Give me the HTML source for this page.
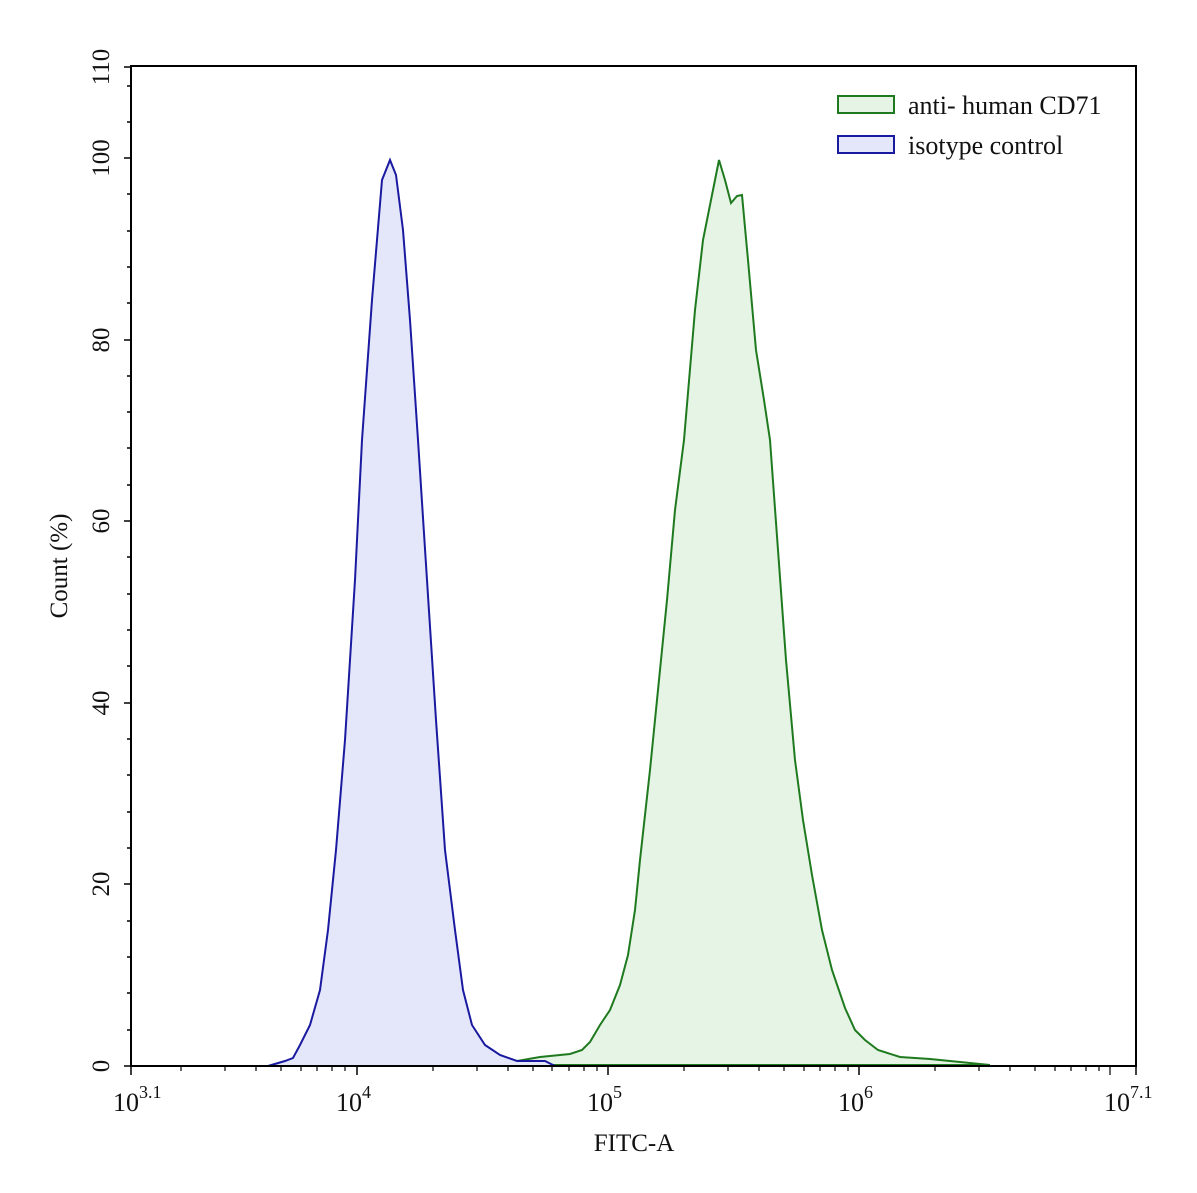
<!DOCTYPE html>
<html><head><meta charset="utf-8"><style>html,body{margin:0;padding:0;background:#fff}svg{display:block}</style></head>
<body>
<svg width="1197" height="1193" viewBox="0 0 1197 1193" xmlns="http://www.w3.org/2000/svg" font-family="Liberation Serif, serif" fill="#111">
<rect width="1197" height="1193" fill="#fff"/>
<path d="M340,1065 L430,1064 L500,1063 L517,1061 L540,1057 L570,1054 L582,1050 L590,1042 L600,1025 L610,1010 L620,985 L628,955 L635,910 L640,860 L650,770 L660,670 L667,600 L675,510 L684,440 L695,310 L703,240 L712,195 L719,160 L725,180 L731,203 L737,196 L742,195 L748,260 L756,350 L764,400 L770,440 L778,550 L786,660 L795,760 L803,820 L812,875 L822,930 L832,970 L845,1008 L855,1030 L865,1040 L878,1050 L900,1057 L930,1059 L960,1062 L990,1065 Z" fill="#e6f4e6" stroke="#1f7a1f" stroke-width="2"/>
<path d="M268,1066 L285,1061 L293,1058 L300,1045 L310,1025 L320,990 L328,930 L336,850 L345,740 L355,580 L362,440 L372,300 L382,180 L390,160 L396,175 L403,230 L410,320 L418,440 L427,580 L436,720 L445,850 L455,930 L463,990 L472,1025 L485,1045 L500,1055 L517,1061 L530,1061 L545,1061 L555,1066 Z" fill="#e4e6fa" stroke="#1a1aa0" stroke-width="2"/>
<rect x="131" y="66" width="1005" height="1000" fill="none" stroke="#000" stroke-width="2"/>
<g stroke="#000" stroke-width="1.5">
<line x1="124" y1="1066" x2="131" y2="1066"/><line x1="124" y1="884" x2="131" y2="884"/><line x1="124" y1="703" x2="131" y2="703"/><line x1="124" y1="521" x2="131" y2="521"/><line x1="124" y1="340" x2="131" y2="340"/><line x1="124" y1="158" x2="131" y2="158"/><line x1="124" y1="67" x2="131" y2="67"/>
<line x1="127" y1="1030" x2="131" y2="1030"/><line x1="127" y1="993" x2="131" y2="993"/><line x1="127" y1="957" x2="131" y2="957"/><line x1="127" y1="921" x2="131" y2="921"/>
<line x1="127" y1="848" x2="131" y2="848"/><line x1="127" y1="812" x2="131" y2="812"/><line x1="127" y1="775" x2="131" y2="775"/><line x1="127" y1="739" x2="131" y2="739"/>
<line x1="127" y1="666" x2="131" y2="666"/><line x1="127" y1="630" x2="131" y2="630"/><line x1="127" y1="594" x2="131" y2="594"/><line x1="127" y1="557" x2="131" y2="557"/>
<line x1="127" y1="485" x2="131" y2="485"/><line x1="127" y1="448" x2="131" y2="448"/><line x1="127" y1="412" x2="131" y2="412"/><line x1="127" y1="376" x2="131" y2="376"/>
<line x1="127" y1="303" x2="131" y2="303"/><line x1="127" y1="267" x2="131" y2="267"/><line x1="127" y1="231" x2="131" y2="231"/><line x1="127" y1="194" x2="131" y2="194"/>
<line x1="127" y1="122" x2="131" y2="122"/><line x1="127" y1="86" x2="131" y2="86"/>
<line x1="131" y1="1066" x2="131" y2="1075"/><line x1="357" y1="1066" x2="357" y2="1075"/><line x1="608" y1="1066" x2="608" y2="1075"/><line x1="859" y1="1066" x2="859" y2="1075"/><line x1="1136" y1="1066" x2="1136" y2="1075"/>
</g>
<g stroke="#000" stroke-width="1.2">
<line x1="181" y1="1066" x2="181" y2="1071"/><line x1="225" y1="1066" x2="225" y2="1071"/><line x1="256" y1="1066" x2="256" y2="1071"/><line x1="281" y1="1066" x2="281" y2="1071"/><line x1="301" y1="1066" x2="301" y2="1071"/><line x1="317" y1="1066" x2="317" y2="1071"/><line x1="332" y1="1066" x2="332" y2="1071"/><line x1="345" y1="1066" x2="345" y2="1071"/>
<line x1="433" y1="1066" x2="433" y2="1071"/><line x1="477" y1="1066" x2="477" y2="1071"/><line x1="508" y1="1066" x2="508" y2="1071"/><line x1="533" y1="1066" x2="533" y2="1071"/><line x1="552" y1="1066" x2="552" y2="1071"/><line x1="569" y1="1066" x2="569" y2="1071"/><line x1="584" y1="1066" x2="584" y2="1071"/><line x1="597" y1="1066" x2="597" y2="1071"/>
<line x1="684" y1="1066" x2="684" y2="1071"/><line x1="728" y1="1066" x2="728" y2="1071"/><line x1="759" y1="1066" x2="759" y2="1071"/><line x1="784" y1="1066" x2="784" y2="1071"/><line x1="804" y1="1066" x2="804" y2="1071"/><line x1="820" y1="1066" x2="820" y2="1071"/><line x1="835" y1="1066" x2="835" y2="1071"/><line x1="848" y1="1066" x2="848" y2="1071"/>
<line x1="935" y1="1066" x2="935" y2="1071"/><line x1="979" y1="1066" x2="979" y2="1071"/><line x1="1010" y1="1066" x2="1010" y2="1071"/><line x1="1035" y1="1066" x2="1035" y2="1071"/><line x1="1055" y1="1066" x2="1055" y2="1071"/><line x1="1071" y1="1066" x2="1071" y2="1071"/><line x1="1086" y1="1066" x2="1086" y2="1071"/><line x1="1099" y1="1066" x2="1099" y2="1071"/><line x1="1110" y1="1066" x2="1110" y2="1075"/>
</g>
<g font-size="25" text-anchor="middle">
<text transform="translate(109,1066) rotate(-90)">0</text>
<text transform="translate(109,884) rotate(-90)">20</text>
<text transform="translate(109,703) rotate(-90)">40</text>
<text transform="translate(109,521) rotate(-90)">60</text>
<text transform="translate(109,340) rotate(-90)">80</text>
<text transform="translate(109,158) rotate(-90)">100</text>
<text transform="translate(109,67) rotate(-90)">110</text>
<text transform="translate(67,566) rotate(-90)">Count  (%)</text>
<text x="634" y="1151">FITC-A</text>
</g>
<g font-size="26">
<text x="113" y="1111">10<tspan font-size="18" dy="-13">3.1</tspan></text>
<text x="336" y="1111">10<tspan font-size="18" dy="-13">4</tspan></text>
<text x="587" y="1111">10<tspan font-size="18" dy="-13">5</tspan></text>
<text x="838" y="1111">10<tspan font-size="18" dy="-13">6</tspan></text>
<text x="1104" y="1111">10<tspan font-size="18" dy="-13">7.1</tspan></text>
</g>
<rect x="838" y="96" width="56" height="17" fill="#e6f4e6" stroke="#1f7a1f" stroke-width="2"/>
<rect x="838" y="136" width="56" height="17" fill="#e4e6fa" stroke="#1a1aa0" stroke-width="2"/>
<g font-size="26"><text x="908" y="114">anti- human CD71</text><text x="908" y="154">isotype control</text></g>
</svg>
</body></html>
